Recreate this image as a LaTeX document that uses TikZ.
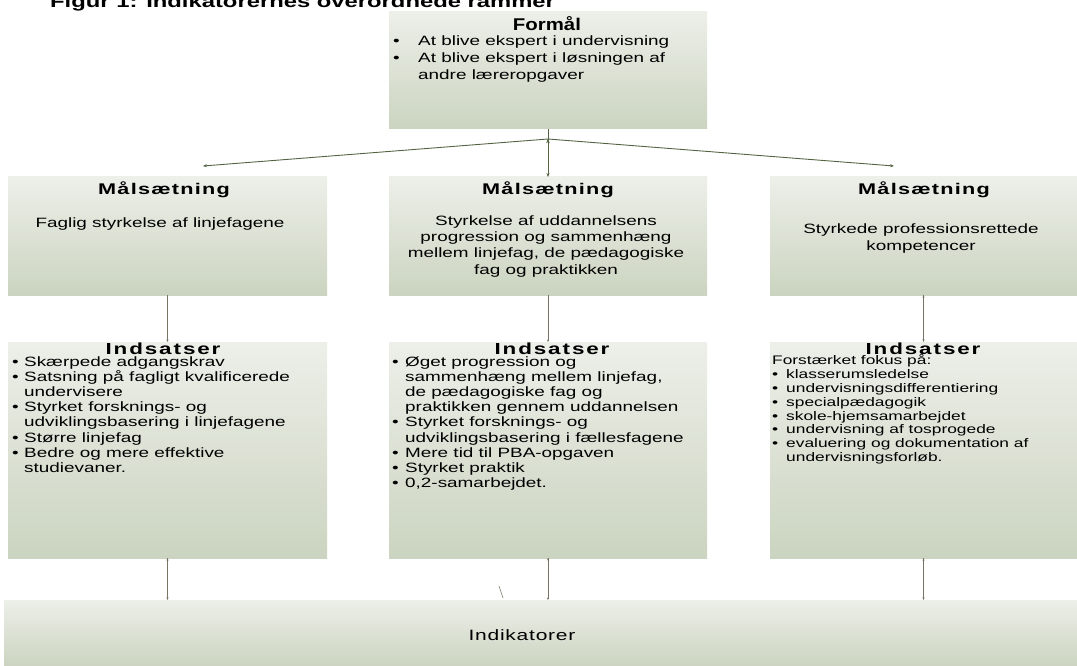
\documentclass[tikz,border=0pt]{standalone}
\usepackage{fontspec}
\setmainfont{Liberation Sans}[FakeStretch=1.4]
\newfontfamily\formalfont{Liberation Sans}[FakeStretch=1.2]
\usetikzlibrary{arrows.meta}

\definecolor{boxtop}{RGB}{237,239,233}
\definecolor{boxbot}{RGB}{203,212,192}
\definecolor{arrowcol}{RGB}{84,100,66}
\definecolor{stemcol}{RGB}{120,116,100}

% bullet and continuation lines
\newcommand{\itm}[2][12pt]{\makebox[#1][l]{\textbullet}#2}
\newcommand{\cnt}[2][12pt]{\hspace*{#1}#2}

\tikzset{
	panel/.style={rectangle,top color=boxtop,bottom color=boxbot,inner sep=0,outer sep=0},
	head/.style={font=\bfseries\fontsize{15.5}{17}\selectfont,inner sep=0,anchor=base},
	body/.style={font=\fontsize{13.5}{15.2}\selectfont,inner sep=0},
	link/.style={draw=arrowcol,line width=0.9pt,-{Stealth[length=4pt,width=3pt]}},
	stem/.style={draw=stemcol,line width=0.7pt,-{Stealth[length=2.5pt,width=2pt]}},
}

\begin{document}
\begin{tikzpicture}[x=1pt,y=-1pt]
	\clip (0,0) rectangle (1077,666);
	\node[anchor=base west,font=\bfseries\fontsize{17}{19}\selectfont,inner sep=0] (title) at (50,8) {Figur 1: Indikatorernes overordnede rammer};

	% boxes
	\node[panel,minimum width=318,minimum height=117] (F) at (548,70.5) {};
	\node[panel,minimum width=319,minimum height=118] (M1) at (167.5,236) {};
	\node[panel,minimum width=318,minimum height=118] (M2) at (548,236) {};
	\node[panel,minimum width=307,minimum height=118] (M3) at (923.5,236) {};
	\node[panel,minimum width=319,minimum height=216] (I1) at (167.5,450) {};
	\node[panel,minimum width=318,minimum height=216] (I2) at (548,450) {};
	\node[panel,minimum width=307,minimum height=216] (I3) at (923.5,450) {};
	\node[panel,minimum width=1073,minimum height=66] (Ind) at (540.5,633) {};

	% texts (anchor base = baseline of the last line)
	\node[head,font=\formalfont\bfseries\fontsize{17}{19}\selectfont] (Fh) at (547,30.5) {Formål};
	\node[body,anchor=base west,align=left,font=\fontsize{13.5}{17}\selectfont] (Ft) at (393,79.5) {%
		\itm[25pt]{At blive ekspert i undervisning}\\
		\itm[25pt]{At blive ekspert i løsningen af}\\
		\cnt[25pt]{andre læreropgaver}};

	\node[head] (M1h) at (164,194) {\addfontfeature{LetterSpace=8}Målsætning};
	\node[head] (M2h) at (548,194) {\addfontfeature{LetterSpace=8}Målsætning};
	\node[head] (M3h) at (924,194) {\addfontfeature{LetterSpace=8}Målsætning};
	\node[body,anchor=base,align=center] (M1t) at (160,227) {Faglig styrkelse af linjefagene};
	\node[body,anchor=base,align=center,font=\fontsize{13.5}{16.3}\selectfont] (M2t) at (546,274) {Styrkelse af uddannelsens\\progression og sammenhæng\\mellem linjefag, de pædagogiske\\fag og praktikken};
	\node[body,anchor=base,align=center,font=\fontsize{13.5}{17}\selectfont] (M3t) at (921,250) {Styrkede professionsrettede\\kompetencer};

	\node[head,font=\bfseries\fontsize{16}{18}\selectfont] (I1h) at (163,354) {\addfontfeature{LetterSpace=12}Indsatser};
	\node[head,font=\bfseries\fontsize{16}{18}\selectfont] (I2h) at (552,354) {\addfontfeature{LetterSpace=12}Indsatser};
	\node[head,font=\bfseries\fontsize{16}{18}\selectfont] (I3h) at (923,354) {\addfontfeature{LetterSpace=12}Indsatser};
	\node[body,anchor=base west,align=left] (I1t) at (12,472.4) {%
		\itm{Skærpede adgangskrav}\\
		\itm{Satsning på fagligt kvalificerede}\\
		\cnt{undervisere}\\
		\itm{Styrket forsknings- og}\\
		\cnt{udviklingsbasering i linjefagene}\\
		\itm{Større linjefag}\\
		\itm{Bedre og mere effektive}\\
		\cnt{studievaner.}};
	\node[body,anchor=base west,align=left] (I2t) at (392,487.6) {%
		\itm[13pt]{Øget progression og}\\
		\cnt[13pt]{sammenhæng mellem linjefag,}\\
		\cnt[13pt]{de pædagogiske fag og}\\
		\cnt[13pt]{praktikken gennem uddannelsen}\\
		\itm[13pt]{Styrket forsknings- og}\\
		\cnt[13pt]{udviklingsbasering i fællesfagene}\\
		\itm[13pt]{Mere tid til PBA-opgaven}\\
		\itm[13pt]{Styrket praktik}\\
		\itm[13pt]{0,2-samarbejdet.}};
	\node[body,anchor=base west,align=left,font=\fontsize{12.4}{13.8}\selectfont] (I3t) at (772,461.5) {%
		Forstærket fokus på:\\
		\itm[14pt]{klasserumsledelse}\\
		\itm[14pt]{undervisningsdifferentiering}\\
		\itm[14pt]{specialpædagogik}\\
		\itm[14pt]{skole-hjemsamarbejdet}\\
		\itm[14pt]{undervisning af tosprogede}\\
		\itm[14pt]{evaluering og dokumentation af}\\
		\cnt[14pt]{undervisningsforløb.}};

	\node[anchor=base,inner sep=0,font=\fontsize{15}{17}\selectfont] (Indt) at (522,640) {\addfontfeature{LetterSpace=5}Indikatorer};

	% connectors
	\coordinate (J) at (548,139);
	\coordinate (L) at (203,166);
	\coordinate (R) at (894,166);
	\path[link] (F) edge (M2);
	\path[link] (J) edge (L);
	\path[link] (J) edge (R);
	\path[stem] (M1) edge (I1);
	\path[stem] (M2) edge (I2);
	\path[stem] (M3.south) edge (I3.north);
	\path[stem] (I1.south) edge (I1.south |- Ind.north);
	\path[stem] (I2.south) edge (I2.south |- Ind.north);
	\path[stem] (I3.south) edge (I3.south |- Ind.north);
	\coordinate (s1) at (499,586);
	\coordinate (s2) at (503,598);
	\draw[draw=arrowcol!70,line width=0.7pt] (s1) -- (s2);
\end{tikzpicture}
\end{document}
